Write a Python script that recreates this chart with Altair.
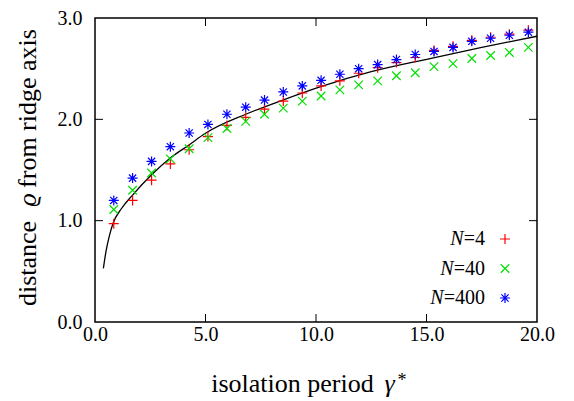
import altair as alt
import pandas as pd

# ---- data ----
gamma = [0.85, 1.70, 2.56, 3.41, 4.26, 5.11, 5.97, 6.82, 7.67, 8.52, 9.38, 10.23,
         11.08, 11.93, 12.79, 13.64, 14.49, 15.34, 16.20, 17.05, 17.90, 18.75, 19.61]
rho_n4 = [0.97, 1.20, 1.40, 1.56, 1.70, 1.83, 1.94, 2.02, 2.10, 2.18, 2.26, 2.33,
          2.38, 2.455, 2.51, 2.56, 2.61, 2.68, 2.72, 2.78, 2.81, 2.84, 2.88]
rho_n40 = [1.11, 1.30, 1.47, 1.61, 1.71, 1.82, 1.91, 1.98, 2.05, 2.11, 2.18, 2.23,
           2.29, 2.34, 2.38, 2.43, 2.46, 2.52, 2.55, 2.60, 2.63, 2.66, 2.71]
rho_n400 = [1.20, 1.42, 1.585, 1.73, 1.865, 1.95, 2.05, 2.12, 2.19, 2.27, 2.33, 2.385,
            2.445, 2.50, 2.54, 2.59, 2.64, 2.67, 2.71, 2.77, 2.80, 2.83, 2.86]
curve_gamma = [0.38, 0.50, 0.65, 0.81, 1.20, 1.69, 2.55, 3.42, 4.27, 4.98, 6.82,
               8.50, 10.18, 12.50, 15.16, 17.50, 20.0]
curve_rho = [0.53, 0.70, 0.85, 0.97, 1.12, 1.25, 1.45, 1.62, 1.75, 1.86, 2.05,
             2.19, 2.32, 2.47, 2.60, 2.71, 2.82]
series = ["N=4", "N=40", "N=400"]
legend_suffix = ["=4", "=40", "=400"]
x_ticks = [0, 5, 10, 15, 20]
y_ticks = [0, 1, 2, 3]
x_title_parts = ["isolation period", "γ", "*"]
y_title_parts = ["distance", "ϱ", "from ridge axis"]

# ---- styling ----
FONT = "Liberation Serif"
GREEK_FONT = "Liberation Serif, DejaVu Serif"
W, H = 442, 304
colors = ["#ff0000", "#00e000", "#0000ff"]
PLUS = "M-1,0L1,0M0,-1L0,1"
CROSS = "M-0.85,-0.85L0.85,0.85M-0.85,0.85L0.85,-0.85"
STAR = "M-1,0L1,0M0,-1L0,1M-0.72,-0.72L0.72,0.72M-0.72,0.72L0.72,-0.72"
shapes = [PLUS, CROSS, STAR]

rows = []
for name, vals in zip(series, [rho_n4, rho_n40, rho_n400]):
    for g, r in zip(gamma, vals):
        rows.append({"gamma": g, "rho": r, "series": name})
pts = pd.DataFrame(rows)
curve = pd.DataFrame({"gamma": curve_gamma, "rho": curve_rho})

xs = alt.Scale(domain=[x_ticks[0], x_ticks[-1]], nice=False, zero=False)
ys = alt.Scale(domain=[y_ticks[0], y_ticks[-1]], nice=False, zero=False)
shape_scale = alt.Scale(domain=series, range=shapes)
color_scale = alt.Scale(domain=series, range=colors)

x_axis = alt.Axis(values=x_ticks, format=".1f", title="", labelPadding=2, labelFlush=False)
y_axis = alt.Axis(values=y_ticks, format=".1f", title="", labelPadding=13, labelFlush=False)

line = alt.Chart(curve).mark_line(color="black", strokeWidth=1.3,
                                  interpolate="monotone").encode(
    x=alt.X("gamma:Q", scale=xs, axis=x_axis),
    y=alt.Y("rho:Q", scale=ys, axis=y_axis),
)

points = alt.Chart(pts).mark_point(filled=False, size=100, strokeWidth=1.2,
                                   opacity=1).encode(
    x=alt.X("gamma:Q", scale=xs),
    y=alt.Y("rho:Q", scale=ys),
    shape=alt.Shape("series:N", scale=shape_scale, legend=None),
    color=alt.Color("series:N", scale=color_scale, legend=None),
    order=alt.Order("series:N"),
)

# inward mirrored ticks (gnuplot style)
TL = 8
xt = pd.DataFrame({"v": x_ticks[1:-1]})
yt = pd.DataFrame({"v": y_ticks[1:-1]})
bt = alt.Chart(xt).mark_rule(color="black", strokeWidth=1).encode(
    x=alt.X("v:Q", scale=xs), y=alt.value(H), y2=alt.value(H - TL))
tt = alt.Chart(xt).mark_rule(color="black", strokeWidth=1).encode(
    x=alt.X("v:Q", scale=xs), y=alt.value(0), y2=alt.value(TL))
lt = alt.Chart(yt).mark_rule(color="black", strokeWidth=1).encode(
    y=alt.Y("v:Q", scale=ys), x=alt.value(0), x2=alt.value(TL))
rt = alt.Chart(yt).mark_rule(color="black", strokeWidth=1).encode(
    y=alt.Y("v:Q", scale=ys), x=alt.value(W - TL), x2=alt.value(W))

# manual legend: label right-aligned, symbol to the right
leg_df = pd.DataFrame({"series": series, "suffix": legend_suffix})
legend_layers = []
TEXT_RIGHT = 390
SYM_X = 410
ROW0 = 221
ROWSTEP = 29.5
for i, (name, suf) in enumerate(zip(series, legend_suffix)):
    yy = ROW0 + ROWSTEP * i
    sub = alt.Chart(leg_df).transform_filter(alt.datum.series == name)
    legend_layers.append(sub.mark_text(align="right", baseline="middle", font=FONT,
                                       fontSize=20, color="black").encode(
        x=alt.value(TEXT_RIGHT), y=alt.value(yy), text=alt.Text("suffix:N")))
    suf_w = 11.3 + 10.0 * (len(suf) - 1)
    legend_layers.append(sub.mark_text(align="right", baseline="middle", font=FONT,
                                       fontSize=20, fontStyle="italic",
                                       color="black").encode(
        x=alt.value(TEXT_RIGHT - suf_w), y=alt.value(yy), text=alt.value("N")))
    legend_layers.append(sub.mark_point(filled=False, size=100, strokeWidth=1.2,
                                        opacity=1, shape=shapes[i],
                                        color=colors[i]).encode(
        x=alt.value(SYM_X), y=alt.value(yy)))

# axis titles built from pieces so the Greek symbols can be italic
title_df = pd.DataFrame({"part": x_title_parts + y_title_parts,
                         "key": ["x0", "x1", "x2", "y0", "y1", "y2"]})
def title_piece(key, x, y, size, italic=False, angle=0, font=FONT):
    kw = dict(align="center", baseline="alphabetic", font=font, fontSize=size,
              color="black")
    if italic:
        kw["fontStyle"] = "italic"
    if angle:
        kw["angle"] = angle
    return alt.Chart(title_df).transform_filter(alt.datum.key == key).mark_text(
        **kw).encode(x=alt.value(x), y=alt.value(y), text=alt.Text("part:N"))

XT_BASE = 373.5
YT_BASE = -59
title_layers = [
    title_piece("x0", 197.5, XT_BASE, 26),
    title_piece("x1", 294.5, XT_BASE, 26, italic=True, font=GREEK_FONT),
    title_piece("x2", 307, XT_BASE - 6, 18),
    title_piece("y0", YT_BASE, 245.5, 26, angle=270),
    title_piece("y1", YT_BASE, 182, 26, italic=True, angle=270, font=GREEK_FONT),
    title_piece("y2", YT_BASE, 90.5, 26, angle=270),
]

chart = alt.layer(line, points, bt, tt, lt, rt, *legend_layers, *title_layers).properties(
    width=W, height=H,
    autosize="none",
    padding={"left": 87, "top": 10, "right": 29, "bottom": 78},
).configure_view(
    stroke="black", strokeWidth=1.5
).configure_axis(
    domain=False, ticks=False, grid=False,
    labelFont=FONT, labelFontSize=20, labelColor="black",
)

chart.save("out.html", embed_options={"renderer": "svg", "actions": False})
